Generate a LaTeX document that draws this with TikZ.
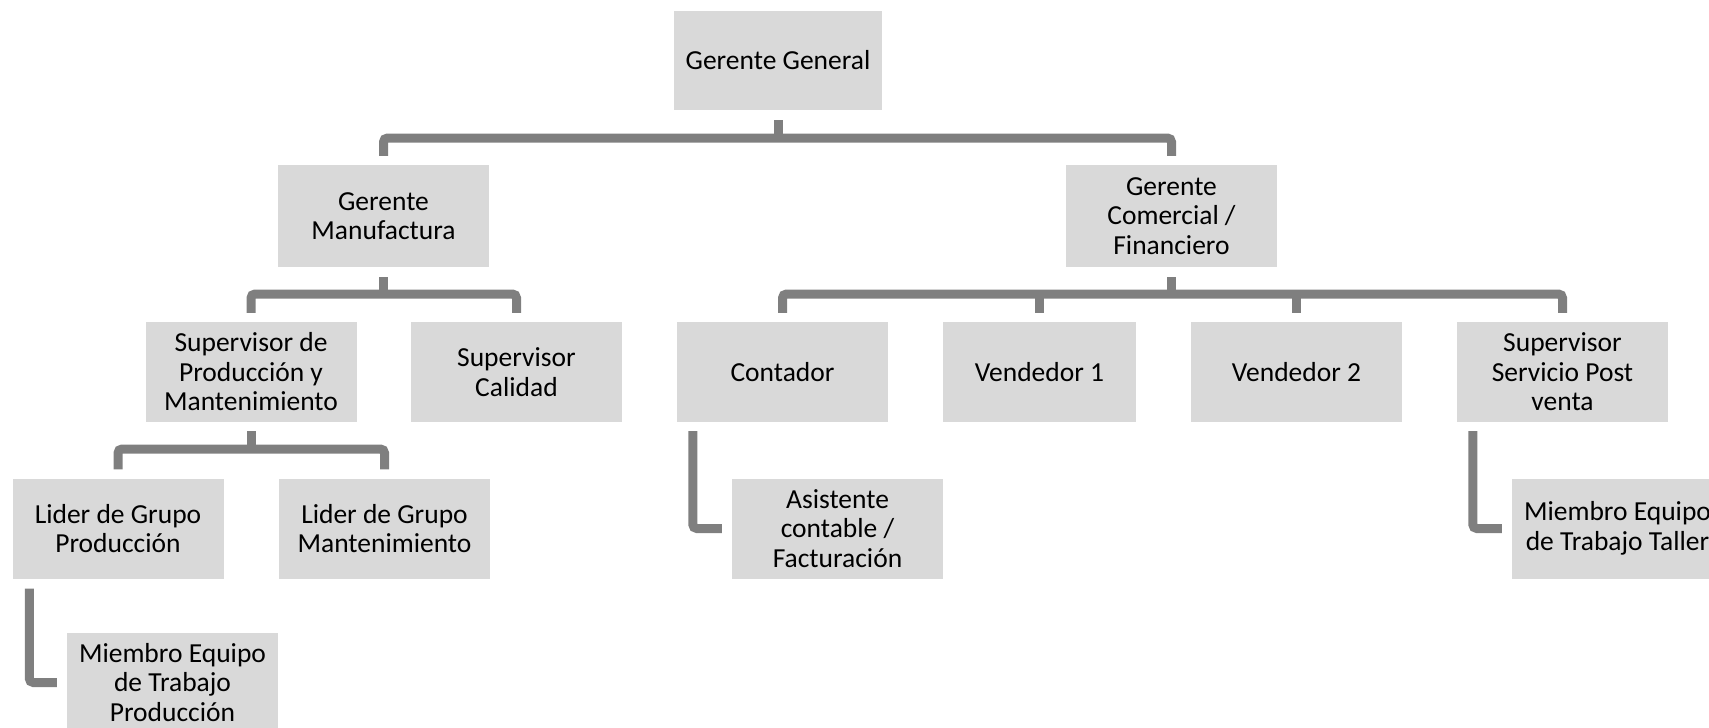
\documentclass[tikz,border=0pt]{standalone}
\usepackage{fontspec}
\setmainfont{Carlito}
\usepackage{tikz}
\usetikzlibrary{positioning,calc}
\definecolor{orgbox}{RGB}{217,217,217}
\definecolor{orgline}{RGB}{127,127,127}
\tikzstyle{box} = [rectangle, fill=orgbox, minimum width=211pt, minimum height=100pt, align=center, inner sep=2pt, font=\fontsize{27.5pt}{29.5pt}\selectfont]
\tikzstyle{conn} = [line width=9pt, color=orgline, rounded corners=4pt]

\begin{document}
\begin{tikzpicture}[x=1pt,y=-1pt]
\useasboundingbox (0,0) rectangle (1709,728);
\clip (0,0) rectangle (1709,728);

% Level 1
\node[box, minimum width=208pt, minimum height=99pt] (gg) at (778,60.5) {Gerente General};

% Level 2
\node[box, minimum height=102pt] (gm) at (383.5,216) {Gerente\\Manufactura};
\node[box, minimum height=102pt] (gcf) at (1171.5,216) {Gerente\\Comercial /\\Financiero};

% Level 3
\node[box] (spm) at (251,372) {Supervisor de\\Producción y\\Mantenimiento};
\node[box] (sc) at (516.5,372) {Supervisor\\Calidad};
\node[box] (cont) at (782.5,372) {Contador};
\node[box, minimum width=193pt] (v1) at (1039.5,372) {Vendedor 1};
\node[box] (v2) at (1296.5,372) {Vendedor 2};
\node[box] (ssp) at (1562.5,372) {Supervisor\\Servicio Post\\venta};

% Level 4
\node[box] (lgp) at (118,528.5) {Lider de Grupo\\Producción};
\node[box] (lgm) at (384.5,528.5) {Lider de Grupo\\Mantenimiento};
\node[box] (asis) at (837.5,528.5) {Asistente\\contable /\\Facturación};
\node[box] (mtt) at (1617.5,528.5) {Miembro Equipo\\de Trabajo Taller};

% Level 5
\node[box] (mtp) at (172.5,682.5) {Miembro Equipo\\de Trabajo\\Producción};

% Bus lines
\coordinate (b1) at (0,138);
\coordinate (b2) at (0,294);
\coordinate (b3) at (0,449);

\draw[conn] ([yshift=-10pt]gg.south) -- (gg.south |- b1);
\draw[conn] ([yshift=9pt]gm.north) -- (gm.north |- b1) -- (gcf.north |- b1) -- ([yshift=9pt]gcf.north);

\draw[conn] ([yshift=-10pt]gm.south) -- (gm.south |- b2);
\draw[conn] ([yshift=9pt]spm.north) -- (spm.north |- b2) -- (sc.north |- b2) -- ([yshift=9pt]sc.north);

\draw[conn] ([yshift=-10pt]gcf.south) -- (gcf.south |- b2);
\draw[conn] ([yshift=9pt]cont.north) -- (cont.north |- b2) -- (ssp.north |- b2) -- ([yshift=9pt]ssp.north);
\draw[conn] (v1.north |- b2) -- ([yshift=9pt]v1.north);
\draw[conn] (v2.north |- b2) -- ([yshift=9pt]v2.north);

\draw[conn] ([yshift=-9pt]spm.south) -- (spm.south |- b3);
\draw[conn] ([yshift=9pt]lgp.north) -- (lgp.north |- b3) -- (lgm.north |- b3) -- ([yshift=9pt]lgm.north);

% Elbow lines
\draw[conn] ([xshift=16pt,yshift=-9pt]cont.south west) |- ([xshift=-10pt]asis.west);
\draw[conn] ([xshift=17pt,yshift=-10pt]lgp.south west) |- ([xshift=-10pt]mtp.west);
\draw[conn] ([xshift=16pt,yshift=-9pt]ssp.south west) |- ([xshift=-10pt]mtt.west);
\end{tikzpicture}
\end{document}
